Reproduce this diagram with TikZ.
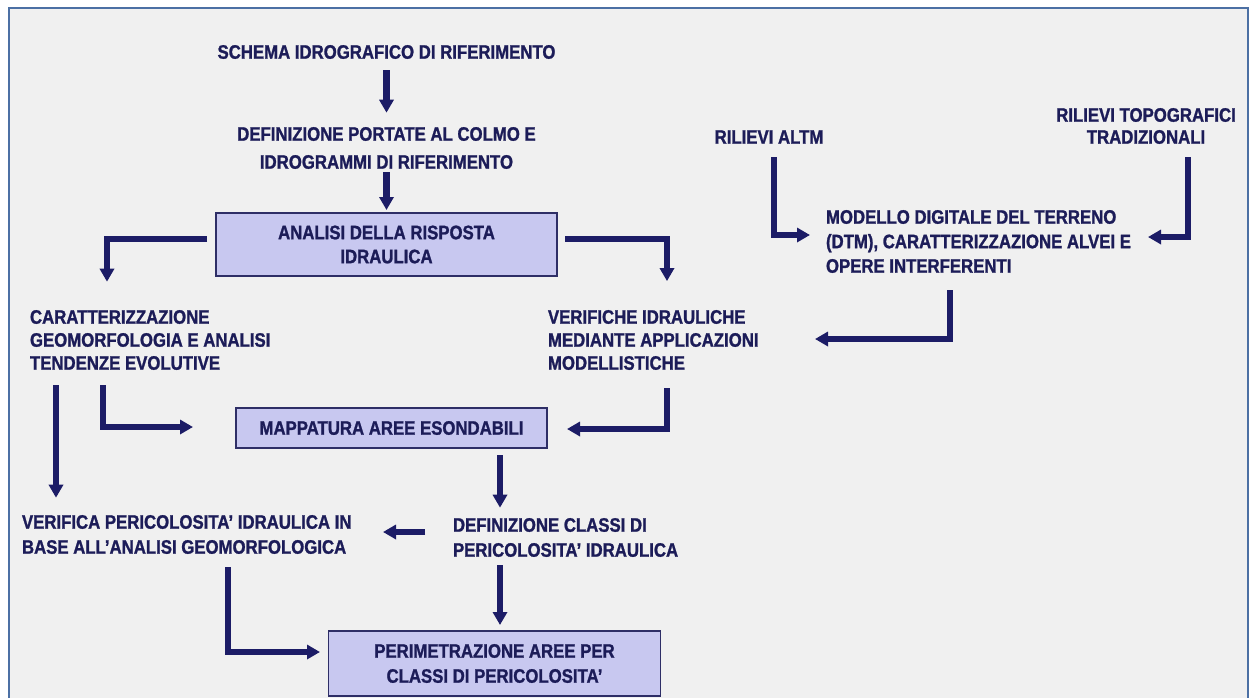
\documentclass[tikz,border=0pt]{standalone}
\usepackage{fontspec}
\setmainfont{Liberation Sans}[FakeStretch=0.86,FakeBold=1.2]
\usetikzlibrary{arrows.meta}
\definecolor{navy}{HTML}{1C1C66}
\definecolor{txt}{HTML}{1C1C58}
\definecolor{boxfill}{HTML}{C8C8F0}
\definecolor{boxline}{HTML}{2E2E66}
\definecolor{framec}{HTML}{4C70A4}
\definecolor{bg}{HTML}{F0F0F0}
\begin{document}
\begin{tikzpicture}[x=1pt,y=-1pt,
  lbl/.style={inner sep=0pt, outer sep=0pt, text=txt, font=\bfseries\fontsize{19.5}{23}\selectfont},
  lblL/.style={lbl, align=left, anchor=west},
  lblC/.style={lbl, align=center},
  bx/.style={lbl, align=center, draw=boxline, line width=1.8pt, fill=boxfill},
  arr/.style={draw=navy, line width=6.5pt, -{Triangle[width=14pt,length=13pt]}}]
\useasboundingbox (0,0) rectangle (1251,697);
\fill[white] (0,0) rectangle (1251,697);
\clip (0,0) rectangle (1251,697);
\draw[framec, line width=2pt, fill=bg] (9,8) rectangle (1248,720);

% nodes
\node[lbl] (schema) at (386.5,52) {SCHEMA IDROGRAFICO DI RIFERIMENTO};
\node[lblC, font=\bfseries\fontsize{19.5}{28}\selectfont] (portate) at (386.5,148) {DEFINIZIONE PORTATE AL COLMO E\\IDROGRAMMI DI RIFERIMENTO};
\node[bx, minimum width=341pt, minimum height=63pt, font=\bfseries\fontsize{19.5}{24}\selectfont] (analisi) at (386.5,244.5) {ANALISI DELLA RISPOSTA\\IDRAULICA};
\node[lblL] (caratt) at (30,340) {CARATTERIZZAZIONE\\GEOMORFOLOGIA E ANALISI\\TENDENZE EVOLUTIVE};
\node[lblL] (verifiche) at (548,340) {VERIFICHE IDRAULICHE\\MEDIANTE APPLICAZIONI\\MODELLISTICHE};
\node[bx, minimum width=311pt, minimum height=40pt] (mappatura) at (391.5,428) {MAPPATURA AREE ESONDABILI};
\node[lblL, font=\bfseries\fontsize{19.5}{25}\selectfont] (verifica) at (22,534.5) {VERIFICA PERICOLOSITA’ IDRAULICA IN\\BASE ALL’ANALISI GEOMORFOLOGICA};
\node[lblL, font=\bfseries\fontsize{19.5}{25}\selectfont] (defclassi) at (453,537.5) {DEFINIZIONE CLASSI DI\\PERICOLOSITA’ IDRAULICA};
\node[bx, minimum width=332pt, minimum height=65pt, font=\bfseries\fontsize{19.5}{25}\selectfont] (perim) at (494.5,663.5) {PERIMETRAZIONE AREE PER\\CLASSI DI PERICOLOSITA’};
\node[lbl] (altm) at (769,137) {RILIEVI ALTM};
\node[lblC, font=\bfseries\fontsize{19.5}{22}\selectfont] (topo) at (1146,126) {RILIEVI TOPOGRAFICI\\TRADIZIONALI};
\node[lblL, font=\bfseries\fontsize{19.5}{24.5}\selectfont] (modello) at (826,241.5) {MODELLO DIGITALE DEL TERRENO\\(DTM), CARATTERIZZAZIONE ALVEI E\\OPERE INTERFERENTI};

% connectors
\draw[arr] ([shift={(0,11.4)}]schema.south) -- ([shift={(0,-14.4)}]portate.north);
\draw[arr] ([shift={(0,3.5)}]portate.south) -- ([shift={(0,-3)}]analisi.north);
\draw[arr] ([shift={(8,-5.5)}]analisi.east) -| ([shift={(119,-29)}]verifiche.north west);
\draw[arr] ([shift={(-9,-5.5)}]analisi.west) -| ([shift={(77,-28.4)}]caratt.north west);
\draw[arr] ([shift={(119,18.4)}]verifiche.south west) |- ([shift={(20,1)}]mappatura.east);
\draw[arr] ([shift={(73,15.4)}]caratt.south west) |- ([shift={(-43,-1)}]mappatura.west);
\draw[arr] ([shift={(26,15.4)}]caratt.south west) -- ([shift={(34,-17.4)}]verifica.north west);
\draw[arr] ([shift={(108.5,7)}]mappatura.south) -- ([shift={(47,-10.4)}]defclassi.north west);
\draw[arr] ([shift={(-28,-5.5)}]defclassi.west) -- ([shift={(-70,-5.5)}]defclassi.west);
\draw[arr] ([shift={(47,8.4)}]defclassi.south west) -- ([shift={(5.5,-6)}]perim.north);
\draw[arr] ([shift={(206,13.4)}]verifica.south west) |- ([shift={(-8.5,-11.5)}]perim.west);
\draw[arr] ([shift={(5,13.4)}]altm.south) |- ([shift={(-16,-6.5)}]modello.west);
\draw[arr] ([shift={(42,13.4)}]topo.south) |- ([shift={(322,-4.5)}]modello.west);
\draw[arr] ([shift={(124,17.4)}]modello.south west) |- ([shift={(267,-1)}]verifiche.west);
\end{tikzpicture}
\end{document}
